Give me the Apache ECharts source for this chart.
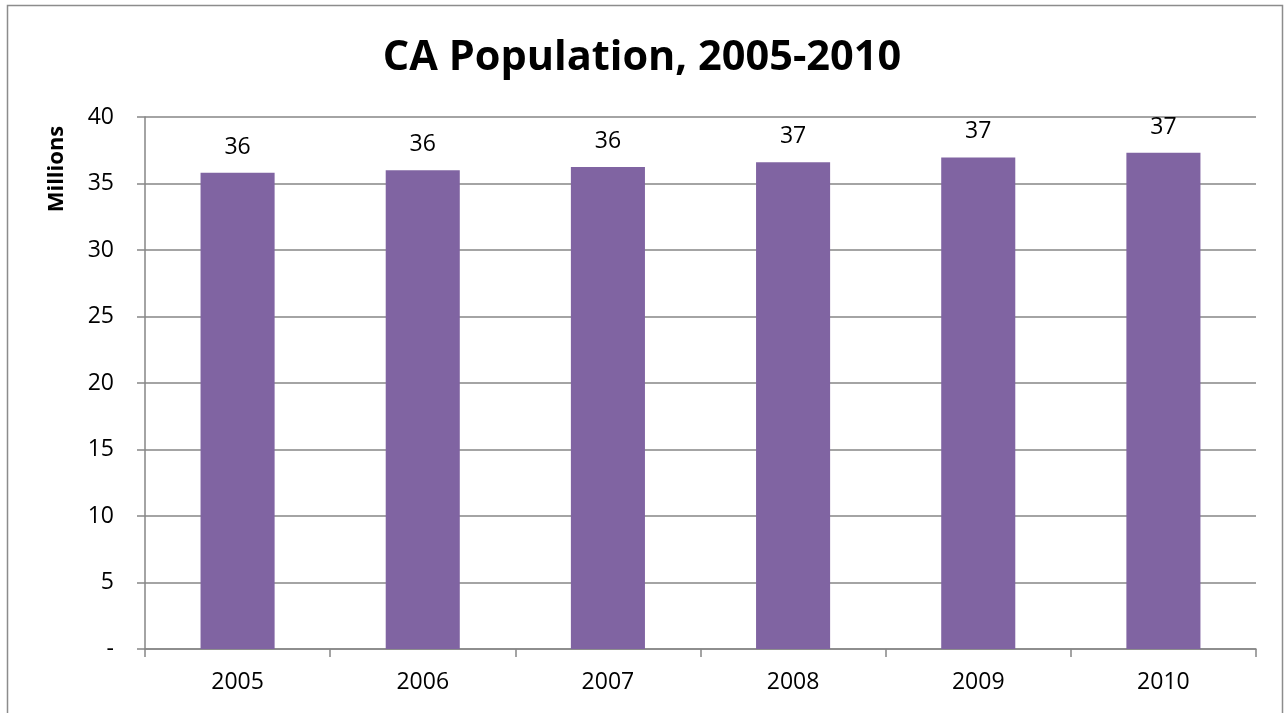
<!DOCTYPE html>
<html>
<head>
<meta charset="utf-8">
<script src="https://cdn.jsdelivr.net/npm/echarts@6/dist/echarts.min.js"></script>
<style>
html,body{margin:0;padding:0;background:#fff;}
#chart{width:1284px;height:713px;}
</style>
</head>
<body>
<div id="chart"></div>
<script>
const years = ['2005', '2006', '2007', '2008', '2009', '2010'];
const population = [35.8, 36.0, 36.25, 36.6, 36.96, 37.32];
const titleText = 'CA Population, 2005-2010';
const yAxisTitle = 'Millions';

const chart = echarts.init(document.getElementById('chart'));
const FONT = '"Open Sans", "Liberation Sans", sans-serif';
chart.setOption({
  animation: false,
  backgroundColor: '#ffffff',
  title: {
    text: titleText,
    left: 'center',
    top: 32,
    textStyle: { fontFamily: FONT, fontSize: 41.5, fontWeight: 'bold', color: '#000' }
  },
  grid: { left: 145, right: 28, top: 117, bottom: 64 },
  graphic: [
    {
      type: 'rect',
      shape: { x: 7.5, y: 5.5, width: 1275, height: 730 },
      style: { fill: 'none', stroke: '#8c8c8c', lineWidth: 1.5 },
      silent: true
    },
    {
      type: 'text',
      x: 57,
      y: 169,
      rotation: Math.PI / 2,
      style: {
        text: yAxisTitle,
        fontFamily: FONT, fontSize: 22, fontWeight: 'bold', fill: '#000',
        align: 'center', verticalAlign: 'middle'
      }
    }
  ],
  xAxis: {
    type: 'category',
    data: years,
    axisLine: { lineStyle: { color: '#868686', width: 1.5 } },
    axisTick: { show: true, length: 8, alignWithLabel: false, lineStyle: { color: '#868686', width: 1.5 } },
    axisLabel: { fontFamily: FONT, fontSize: 23, color: '#000', margin: 22 }
  },
  yAxis: {
    type: 'value',
    min: 0,
    max: 40,
    interval: 5,
    axisLine: { show: true, lineStyle: { color: '#868686', width: 1.5 } },
    axisTick: { show: true, length: 8, lineStyle: { color: '#868686', width: 1.5 } },
    splitLine: { show: true, lineStyle: { color: '#868686', width: 1.5 } },
    axisLabel: {
      fontFamily: FONT, fontSize: 23, color: '#000', margin: 31,
      formatter: function (v) { return v === 0 ? '-' : String(v); }
    }
  },
  series: [{
    type: 'bar',
    data: population,
    barWidth: '40%',
    itemStyle: { color: '#8064A2' },
    label: {
      show: true,
      position: 'top',
      distance: 14,
      fontFamily: FONT, fontSize: 23, color: '#000',
      formatter: function (p) { return String(Math.round(p.value)); }
    }
  }]
});
</script>
</body>
</html>
